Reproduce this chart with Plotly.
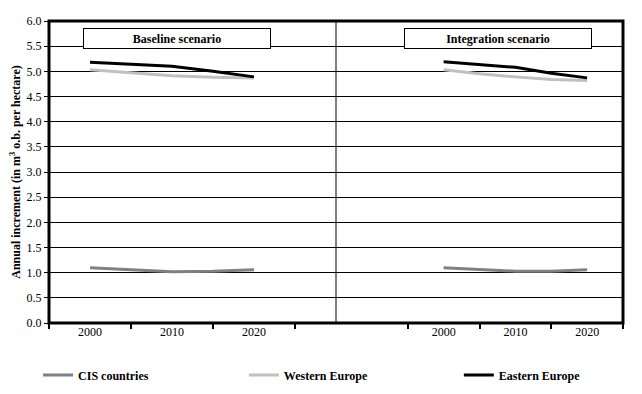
import plotly.graph_objects as go

years = [2000, 2005, 2010, 2015, 2020]
series_names = ["CIS countries", "Western Europe", "Eastern Europe"]
series_colors = ["#808080", "#c0c0c0", "#000000"]

baseline_cis = [1.10, 1.06, 1.02, 1.03, 1.06]
baseline_western = [5.03, 4.97, 4.91, 4.88, 4.87]
baseline_eastern = [5.18, 5.14, 5.10, 5.00, 4.89]

integration_cis = [1.10, 1.06, 1.03, 1.03, 1.06]
integration_western = [5.03, 4.95, 4.89, 4.84, 4.82]
integration_eastern = [5.19, 5.14, 5.08, 4.96, 4.87]

tick_years = [2000, 2010, 2020]
tick_labels = ["2000", "2010", "2020"]
panel_titles = ["Baseline scenario", "Integration scenario"]

FONT = "Times New Roman, Liberation Serif, DejaVu Serif, serif"

fig = go.Figure()
baseline = [baseline_cis, baseline_western, baseline_eastern]
integration = [integration_cis, integration_western, integration_eastern]
legend_ids = ["legend", "legend2", "legend3"]
for i, name in enumerate(series_names):
    fig.add_trace(go.Scatter(x=years, y=baseline[i], mode="lines", name=name,
                             line=dict(color=series_colors[i], width=3),
                             xaxis="x", yaxis="y", legendgroup=name, showlegend=True,
                             legend=legend_ids[i]))
for i, name in enumerate(series_names):
    fig.add_trace(go.Scatter(x=years, y=integration[i], mode="lines", name=name,
                             line=dict(color=series_colors[i], width=3),
                             xaxis="x2", yaxis="y2", legendgroup=name, showlegend=False,
                             legend=legend_ids[i]))

xcommon = dict(tickmode="array", tickvals=tick_years, ticktext=tick_labels,
               ticks="", showgrid=False, zeroline=False, showline=False, automargin=False,
               tickfont=dict(family=FONT, size=12, color="black"),
               minor=dict(tickmode="array", tickvals=[1995, 2005, 2015, 2025],
                          ticks="outside", ticklen=5, tickwidth=2, tickcolor="black",
                          showgrid=False))
ycommon = dict(range=[0, 6], dtick=0.5, tick0=0, tickformat=".1f", automargin=False,
               showgrid=True, gridcolor="black", gridwidth=1, zeroline=False,
               showline=False)

legend_common = dict(orientation="h", y=-0.172, yanchor="middle", xanchor="left",
                     font=dict(family=FONT, size=12, color="black", weight="bold"),
                     bgcolor="rgba(0,0,0,0)", itemwidth=30)

fig.update_layout(
    width=634, height=386,
    margin=dict(l=41, r=19, t=13, b=71, autoexpand=False),
    paper_bgcolor="white", plot_bgcolor="white",
    font=dict(family=FONT, size=12, color="black"),
    xaxis=dict(domain=[0, 0.5], range=[1995, 2030], anchor="y", **xcommon),
    xaxis2=dict(domain=[0.5, 1], range=[1985, 2025], anchor="y2", **xcommon),
    yaxis=dict(domain=[0, 1], anchor="x", ticks="outside", ticklen=4, tickwidth=1,
               tickcolor="black", tickfont=dict(family=FONT, size=12, color="black"),
               title=dict(text="<b>Annual increment (in m<sup>3</sup> o.b. per hectare)</b>",
                          font=dict(family=FONT, size=12, color="black"),
                          standoff=3),
               **ycommon),
    yaxis2=dict(domain=[0, 1], anchor="x2", matches="y", showticklabels=False, ticks="",
                **ycommon),
    showlegend=True,
    legend=dict(x=-0.019, **legend_common),
    legend2=dict(x=0.3395, **legend_common),
    legend3=dict(x=0.714, **legend_common),
    shapes=[
        dict(type="rect", xref="paper", yref="paper", x0=0, x1=1, y0=0, y1=1,
             line=dict(color="black", width=3), layer="above"),
        dict(type="line", xref="paper", yref="paper", x0=0.5, x1=0.5, y0=0, y1=1,
             line=dict(color="black", width=1), layer="above"),
    ],
    annotations=[
        dict(text="<b>" + panel_titles[0] + "</b>", xref="paper", yref="y",
             x=0.223, y=5.655, xanchor="center", yanchor="middle",
             showarrow=False, width=186, height=19, borderpad=0,
             bordercolor="black", borderwidth=1, bgcolor="white",
             font=dict(family=FONT, size=12, color="black")),
        dict(text="<b>" + panel_titles[1] + "</b>", xref="paper", yref="y",
             x=0.783, y=5.655, xanchor="center", yanchor="middle",
             showarrow=False, width=186, height=19, borderpad=0,
             bordercolor="black", borderwidth=1, bgcolor="white",
             font=dict(family=FONT, size=12, color="black")),
    ],
)

fig.write_html("out.html")
